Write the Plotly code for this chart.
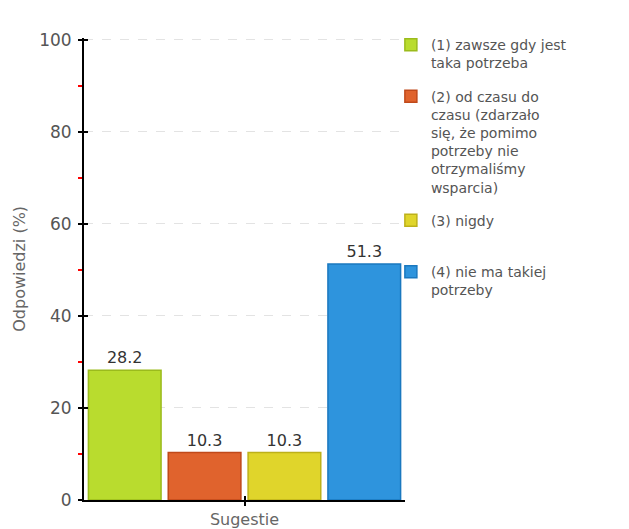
import plotly.graph_objects as go

categories = ["Sugestie"]
series_names = [
    "(1) zawsze gdy jest<br>taka potrzeba",
    "(2) od czasu do<br>czasu (zdarzało<br>się, że pomimo<br>potrzeby nie<br>otrzymaliśmy<br>wsparcia)",
    "(3) nigdy<br>&nbsp;",
    "(4) nie ma takiej<br>potrzeby",
]
values = [28.2, 10.3, 10.3, 51.3]
fill_colors = ["#b9dc2e", "#e0632d", "#e0d52b", "#2e94dd"]
line_colors = ["#9bbb1c", "#c0491a", "#bdb11a", "#1a78bf"]
y_ticks = [0, 20, 40, 60, 80, 100]
y_minor_ticks = [10, 30, 50, 70, 90]
y_range = [0, 100.5]

fig = go.Figure()
for i, (name, v, fc, lc) in enumerate(zip(series_names, values, fill_colors, line_colors)):
    fig.add_trace(go.Bar(
        x=categories, y=[v], name=name, legendgroup=f"g{i}",
        marker=dict(color=fc, line=dict(color=lc, width=1.5)),
        text=[f"{v:.1f}"], textposition="outside",
        textfont=dict(family="DejaVu Sans", size=16, color="#333"),
        cliponaxis=False,
    ))

# overlay axis only to draw the inner half of the major ticks
fig.add_trace(go.Scatter(x=categories, y=[0], yaxis="y2", xaxis="x2",
                         mode="markers", marker=dict(opacity=0),
                         showlegend=False, hoverinfo="skip"))

ydom = [0, 0.9672]
fig.update_layout(
    width=621, height=521,
    margin=dict(l=76, r=224, t=14, b=29),
    plot_bgcolor="white", paper_bgcolor="white",
    barmode="group", bargap=0.005, bargroupgap=0.09,
    font=dict(family="DejaVu Sans", color="#555"),
    showlegend=True,
    legend=dict(x=0.956, y=0.985, xanchor="left", yanchor="top",
                font=dict(size=14, color="#555"), valign="top",
                bgcolor="rgba(0,0,0,0)", tracegroupgap=12,
                traceorder="grouped", itemwidth=30),
    xaxis=dict(showline=True, linecolor="black", linewidth=2,
               ticks="outside", ticklen=4, tickcolor="black", tickwidth=2,
               tickfont=dict(size=16, color="#666"), showgrid=False,
               automargin=False),
    yaxis=dict(range=y_range, tickvals=y_ticks, domain=ydom,
               showline=True, linecolor="black",
               linewidth=2, ticks="outside", ticklen=4, tickcolor="black",
               tickwidth=2, tickfont=dict(size=17, color="#555"),
               ticklabelstandoff=3,
               showgrid=True, gridcolor="#e3e3e3", griddash="dash",
               zeroline=False, automargin=False,
               title=dict(text="Odpowiedzi (%)", font=dict(size=16, color="#666"),
                          standoff=10),
               minor=dict(tickvals=y_minor_ticks, ticks="outside", ticklen=4,
                          tickcolor="red", tickwidth=1.5, showgrid=False)),
    xaxis2=dict(overlaying="x", showticklabels=False, ticks="inside", ticklen=4,
                tickcolor="black", tickwidth=2, showgrid=False, showline=False),
    yaxis2=dict(overlaying="y", side="left", range=y_range, domain=ydom,
                tickvals=y_ticks,
                showticklabels=False, ticks="inside", ticklen=4,
                tickcolor="black", tickwidth=2, showgrid=False, showline=False,
                zeroline=False),
)

fig.write_html("out.html")
